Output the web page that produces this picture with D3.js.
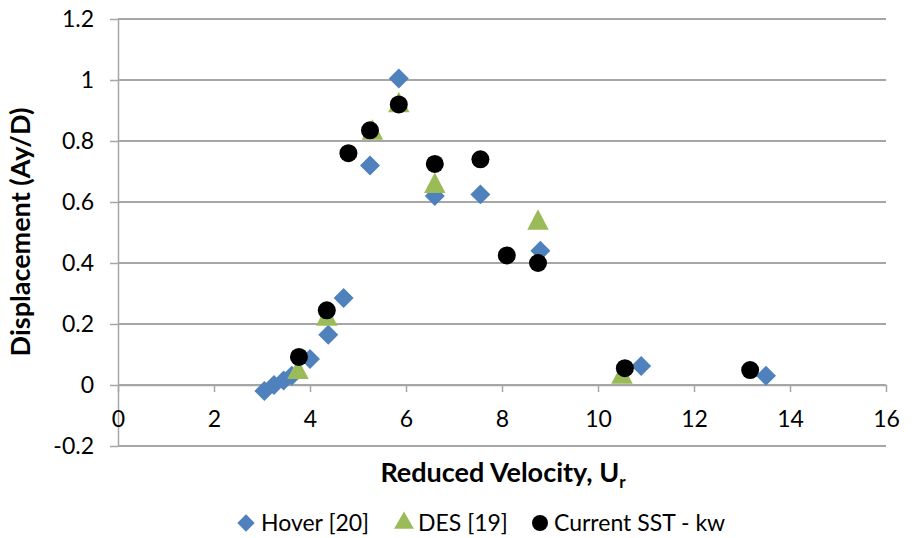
<!DOCTYPE html>
<html><head><meta charset="utf-8">
<script src="https://cdn.jsdelivr.net/npm/d3@7"></script>
<style>body{margin:0;background:#fff;} svg{display:block;font-family:Lato,"Open Sans",sans-serif;}</style>
</head><body>
<svg id="c" width="912" height="538"></svg>
<script>
const xTicks = [0,2,4,6,8,10,12,14,16];
const yTicks = [-0.2,0,0.2,0.4,0.6,0.8,1,1.2];
const seriesNames = ["Hover [20]","DES [19]","Current SST - kw"];
const hoverX = [3.05,3.25,3.45,3.62,4.0,4.38,4.7,5.25,5.85,6.6,7.55,8.8,10.9,13.5];
const hoverY = [-0.02,0.0,0.015,0.03,0.085,0.165,0.285,0.72,1.005,0.62,0.625,0.44,0.062,0.03];
const desX = [3.75,4.35,5.3,5.85,6.6,8.75,10.5];
const desY = [0.045,0.22,0.83,0.92,0.655,0.535,0.03];
const curX = [3.77,4.35,4.8,5.25,5.85,6.6,7.55,8.1,8.75,10.56,13.17];
const curY = [0.092,0.245,0.76,0.835,0.92,0.725,0.74,0.425,0.40,0.055,0.049];

const svg = d3.select("#c");
const x = d3.scaleLinear().domain([0,16]).range([118,886]);
const y = d3.scaleLinear().domain([-0.2,1.2]).range([446,19]);
const grid = "#a6a6a6";
const fmt = d => (d < 0 ? "-" : "") + d3.format("")(Math.abs(+d.toFixed(1)));

// gridlines
svg.append("g").selectAll("line").data(yTicks).join("line")
  .attr("x1",x(0)).attr("x2",x(16)).attr("y1",d=>y(d)).attr("y2",d=>y(d))
  .attr("stroke",grid).attr("stroke-width",1.5).attr("shape-rendering","crispEdges");

// y axis
const ya = svg.append("g").attr("transform",`translate(${x(0)},0)`)
  .call(d3.axisLeft(y).tickValues(yTicks).tickSize(8).tickPadding(16).tickSizeOuter(0).tickFormat(fmt));
ya.select(".domain").attr("stroke",grid).attr("stroke-width",1.5);
ya.selectAll(".tick line").attr("stroke",grid).attr("stroke-width",1.5);
ya.selectAll("text").attr("font-size",23).attr("fill","#000").attr("font-family","Lato");

// x axis at y=0
const xa = svg.append("g").attr("transform",`translate(0,${y(0)})`)
  .call(d3.axisBottom(x).tickValues(xTicks).tickSize(7).tickPadding(19).tickSizeOuter(0));
xa.select(".domain").attr("stroke",grid).attr("stroke-width",1.5);
xa.selectAll(".tick line").attr("stroke",grid).attr("stroke-width",1.5);
xa.selectAll("text").attr("font-size",23).attr("fill","#000").attr("font-family","Lato");

const blue="#4f81bd", green="#9bbb59";
const diamond = d3.symbol().type(d3.symbolSquare).size(200)();
const tri = d3.symbol().type(d3.symbolTriangle).size(200)();

svg.append("g").selectAll("path").data(hoverX.map((v,i)=>[v,hoverY[i]])).join("path")
  .attr("d",diamond).attr("fill",blue)
  .attr("transform",d=>`translate(${x(d[0])},${y(d[1])}) rotate(45)`);
svg.append("g").selectAll("path").data(desX.map((v,i)=>[v,desY[i]])).join("path")
  .attr("d",tri).attr("fill",green)
  .attr("transform",d=>`translate(${x(d[0])},${y(d[1])+1}) scale(1,1.1)`);
svg.append("g").selectAll("circle").data(curX.map((v,i)=>[v,curY[i]])).join("circle")
  .attr("cx",d=>x(d[0])).attr("cy",d=>y(d[1])).attr("r",9).attr("fill","#000");

// axis titles
svg.append("text").attr("x",503).attr("y",482).attr("text-anchor","middle")
  .attr("font-size",27).attr("font-weight","bold")
  .html('Reduced Velocity, U<tspan font-size="17" dy="6">r</tspan>');
svg.append("text").attr("transform","translate(30,232) rotate(-90)").attr("text-anchor","middle")
  .attr("font-size",27).attr("font-weight","bold").text("Displacement (Ay/D)");

// legend
const lg = svg.append("g").attr("font-size",23);
const lx = [246,404,540];
lg.append("path").attr("d",d3.symbol().type(d3.symbolSquare).size(150)()).attr("fill",blue)
  .attr("transform",`translate(${lx[0]},523) rotate(45)`);
lg.append("path").attr("d",d3.symbol().type(d3.symbolTriangle).size(170)()).attr("fill",green)
  .attr("transform",`translate(${lx[1]},523)`);
lg.append("circle").attr("cx",lx[2]).attr("cy",523).attr("r",8).attr("fill","#000");
const tx = [261,418,554];
seriesNames.forEach((n,i)=>{
  lg.append("text").attr("x",tx[i]).attr("y",531).text(n);
});
</script>
</body></html>
